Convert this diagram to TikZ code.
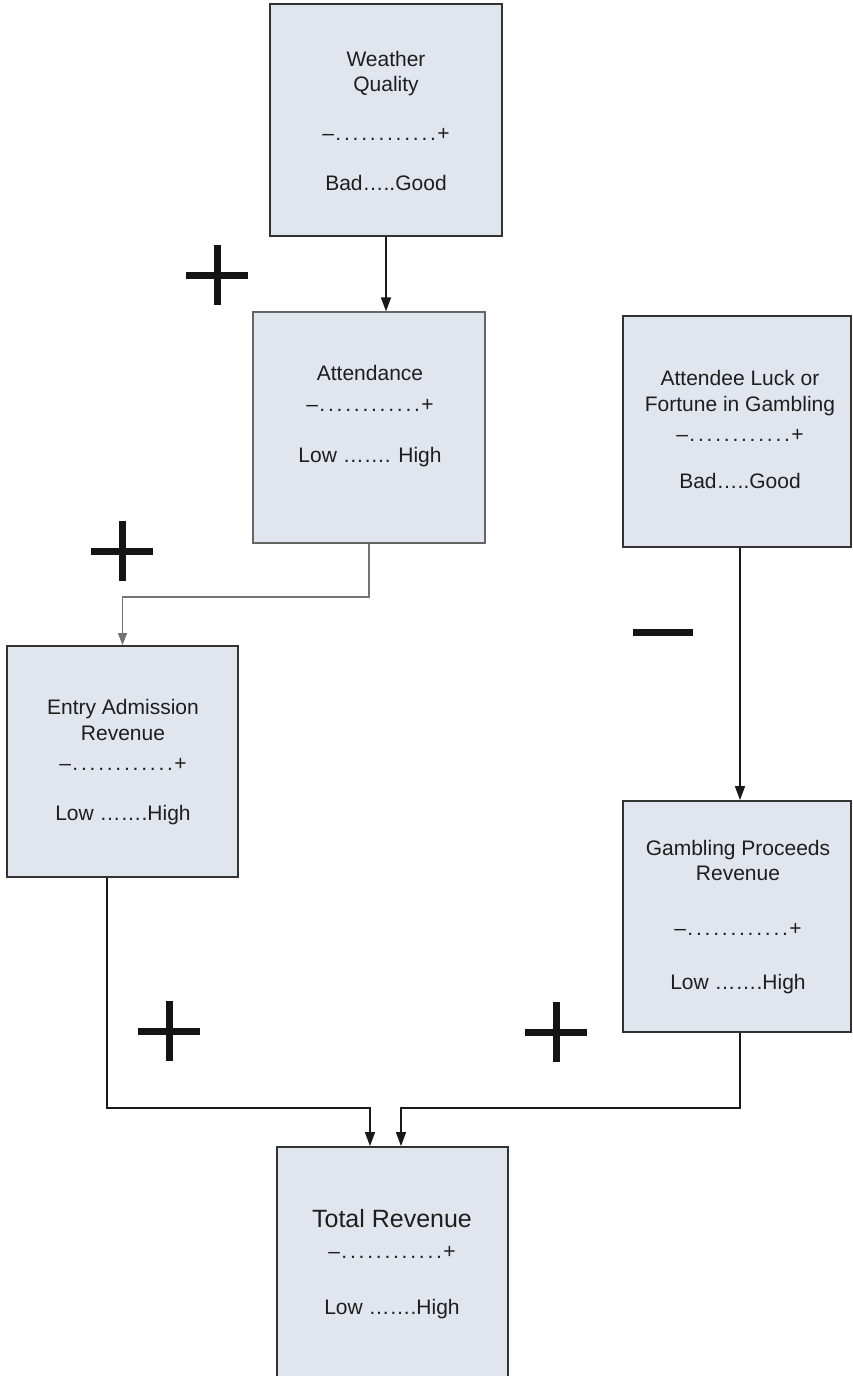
\documentclass[tikz,border=0pt]{standalone}
\usepackage{fontspec}
\setmainfont{Liberation Sans}
\usetikzlibrary{arrows.meta,calc}
\definecolor{boxfill}{HTML}{E1E5EE}
\definecolor{boxline}{HTML}{333333}
\definecolor{txt}{HTML}{1E1E1E}
\newcommand{\dotrow}{–\hbox{\makebox[8.6pt]{.}\makebox[8.6pt]{.}\makebox[8.6pt]{.}\makebox[8.6pt]{.}\makebox[8.6pt]{.}\makebox[8.6pt]{.}\makebox[8.6pt]{.}\makebox[8.6pt]{.}\makebox[8.6pt]{.}\makebox[8.6pt]{.}\makebox[8.6pt]{.}\makebox[8.6pt]{.}}+}
\tikzset{
  box/.style={draw=boxline, fill=boxfill, line width=1.8pt, inner sep=0pt, minimum width=#1},
  box/.default=232pt,
  lbl/.style={anchor=base, inner sep=0pt, text=txt, font=\fontsize{21}{25}\selectfont},
  biglbl/.style={lbl, font=\fontsize{25}{30}\selectfont},
  conn/.style={draw=black!90, line width=1.6pt, -{Triangle[length=14pt,width=10pt]}},
  thinconn/.style={draw=black!55, line width=1.1pt, -{Triangle[length=12pt,width=9pt]}},
  sign/.style={draw=black!92, line width=7pt},
}
\begin{document}
\begin{tikzpicture}[x=1pt,y=-1pt]
\useasboundingbox (0,0) rectangle (853,1376);
\clip (0,0) rectangle (853,1376);
\fill[white] (0,0) rectangle (853,1376);

% boxes
\node[box=232pt, minimum height=232pt] (weather) at (386,120) {};
\node[box=232pt, minimum height=231pt, draw=black!60, line width=1.3pt] (attend) at (369,427.5) {};
\node[box=228pt, minimum height=231pt] (luck) at (737,431.5) {};
\node[box=231pt, minimum height=231pt] (entry) at (122.5,761.5) {};
\node[box=228pt, minimum height=231pt] (gamb) at (737,916.5) {};
\node[box=231pt, minimum height=240pt] (total) at (392.5,1267) {};

% texts
\node[lbl] (w1) at (386,66) {Weather};
\node[lbl] (w2) at (386,91) {Quality};
\node[lbl] (w3) at (386,140) {\dotrow};
\node[lbl] (w4) at (386,190) {Bad…..Good};

\node[lbl] (a1) at (370,380) {Attendance};
\node[lbl] (a2) at (370,411) {\dotrow};
\node[lbl] (a3) at (370,462) {Low ……. High};

\node[lbl] (l1) at (740,385) {Attendee Luck or};
\node[lbl] (l2) at (740,411) {Fortune in Gambling};
\node[lbl] (l3) at (740,441) {\dotrow};
\node[lbl] (l4) at (740,488) {Bad…..Good};

\node[lbl] (e1) at (123,714) {Entry Admission};
\node[lbl] (e2) at (123,740) {Revenue};
\node[lbl] (e3) at (123,770) {\dotrow};
\node[lbl] (e4) at (123,820) {Low …….High};

\node[lbl] (g1) at (738,855) {Gambling Proceeds};
\node[lbl] (g2) at (738,880) {Revenue};
\node[lbl] (g3) at (738,935) {\dotrow};
\node[lbl] (g4) at (738,989) {Low …….High};

\node[biglbl] (t1) at (392,1227) {Total Revenue};
\node[lbl] (t2) at (392,1258) {\dotrow};
\node[lbl] (t3) at (392,1314) {Low …….High};

% junction coordinates
\coordinate (j1) at (0,597);
\coordinate (j2) at (0,1108);

% connectors
\draw[conn] (weather.south) -- (weather.south |- attend.north);
\draw[thinconn] (attend.south) -- (attend.south |- j1) -| (entry.north);
\draw[conn] ([xshift=3pt]luck.south) -- ([xshift=3pt]gamb.north);
\draw[conn] ([xshift=-15.5pt]entry.south) -- ([xshift=-15.5pt]entry.south |- j2) -| ([xshift=-22.5pt]total.north);
\draw[conn] ([xshift=3pt]gamb.south) -- ([xshift=3pt]gamb.south |- j2) -| ([xshift=8.5pt]total.north);

% signs
\coordinate (s1) at (217,275);
\coordinate (s2) at (122,551);
\coordinate (s3) at (169,1031);
\coordinate (s4) at (556,1032);
\coordinate (s5) at (663,632);
\foreach \s in {s1,s2,s3,s4}{
  \draw[sign] ($(\s)+(-31,0)$) -- ($(\s)+(31,0)$);
  \draw[sign] ($(\s)+(0,-30)$) -- ($(\s)+(0,30)$);
}
\draw[sign] ($(s5)+(-30,0)$) -- ($(s5)+(30,0)$);
\end{tikzpicture}
\end{document}
